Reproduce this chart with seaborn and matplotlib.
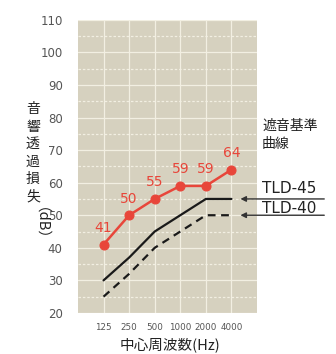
import matplotlib
matplotlib.use("Agg")
import matplotlib.pyplot as plt
import seaborn as sns
import pandas as pd
import numpy as np

freqs = ["125", "250", "500", "1000", "2000", "4000"]
measured = [41, 50, 55, 59, 59, 64]
tld45 = [30, 37, 45, 50, 55, 55]
tld40 = [25, 32, 40, 45, 50, 50]
yticks = [20, 30, 40, 50, 60, 70, 80, 90, 100, 110]

sns.set_style("white")
plt.rcParams['font.family'] = ['Noto Sans CJK JP', 'DejaVu Sans']

fig = plt.figure(figsize=(3.36, 3.54), dpi=100)
ax = fig.add_axes([0.232, 0.116, 0.533, 0.828])
ax.set_facecolor("#d6d1bf")

pos = list(range(len(freqs)))
df = pd.DataFrame({"x": pos, "measured": measured, "tld45": tld45, "tld40": tld40})

red = "#e8463a"
sns.lineplot(data=df, x="x", y="tld40", ax=ax, color="#1a1a1a", lw=1.6,
             linestyle=(0, (3.5, 2.5)))
sns.lineplot(data=df, x="x", y="tld45", ax=ax, color="#1a1a1a", lw=1.6)
sns.lineplot(data=df, x="x", y="measured", ax=ax, color=red, lw=1.8,
             marker="o", markersize=6.5, markeredgecolor=red)

for xi, v in zip(pos, measured):
    ax.annotate(str(v), (xi, v), xytext=(0, 7), textcoords="offset points",
                ha="center", va="bottom", color=red, fontsize=10,
                family=['DejaVu Sans'])

ax.set_xlim(-1, 6)
ax.set_ylim(20, 110)
ax.set_xticks(pos)
ax.set_xticklabels(freqs, fontsize=6.3, color="#555555", family=['DejaVu Sans'])
ax.set_yticks(yticks)
ax.set_yticklabels([str(t) for t in yticks], fontsize=8.5, color="#555555",
                   family=['DejaVu Sans'])
ax.set_yticks(np.arange(25, 110, 10), minor=True)
ax.tick_params(axis="both", length=0)
ax.tick_params(axis="y", pad=11)
ax.tick_params(axis="x", pad=7)
ax.grid(True, which="major", color="#f2efe2", lw=0.9)
ax.grid(True, which="minor", axis="y", color="#f2efe2", lw=0.9, linestyle=(0, (2, 1.5)))
ax.set_axisbelow(True)
for s in ax.spines.values():
    s.set_visible(False)
ax.set_xlabel("")
ax.set_ylabel("")

fig.text(0.505, 0.025, "中心周波数(Hz)", ha="center", va="center", fontsize=10.5,
         color="#222222")

fig.text(0.098, 0.568, "音\n響\n透\n過\n損\n失", ha="center", va="center",
         fontsize=10, linespacing=1.32, color="#222222")
fig.text(0.098, 0.348, "（dB）", ha="center", va="center", rotation=-90,
         fontsize=10.5, color="#222222")

fig.text(0.78, 0.619, "遮音基準\n曲線", ha="left", va="center", fontsize=10,
         color="#222222", linespacing=1.3)

for label, y, yfig in [("TLD-45", 55, 0.455), ("TLD-40", 50, 0.398)]:
    ax.annotate("", xy=(5.35, y), xycoords="data",
                xytext=(0.965, y), textcoords=("figure fraction", "data"),
                arrowprops=dict(arrowstyle="-|>", color="#333333", lw=1.0,
                                shrinkA=0, shrinkB=0, mutation_scale=8),
                annotation_clip=False)
    fig.text(0.78, yfig, label, ha="left", va="baseline", fontsize=11,
             color="#222222", family=['DejaVu Sans'])

fig.savefig("out.png", dpi=100)
